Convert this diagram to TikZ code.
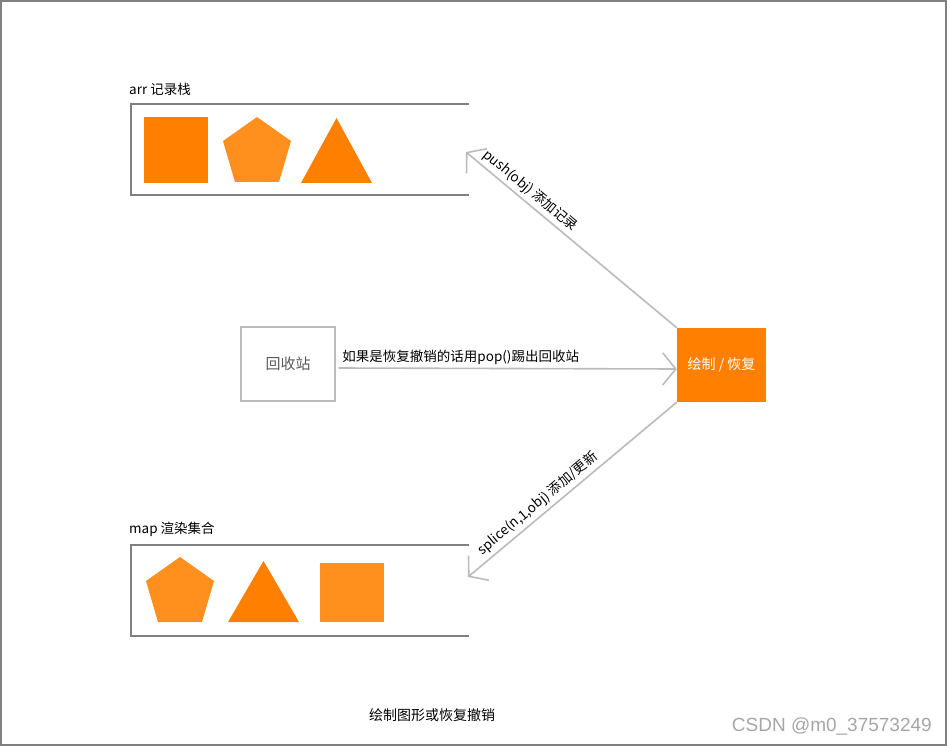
\documentclass[tikz,border=0pt]{standalone}
\usepackage{fontspec}
\setmainfont{Noto Sans CJK SC}
\newfontfamily\wmfont{Liberation Sans}
\usepackage{xcolor}
\usepackage{tikz}
\usetikzlibrary{arrows.meta}
\definecolor{deeporange}{HTML}{FF8000}
\definecolor{lightorange}{HTML}{FF901E}
\definecolor{framegray}{HTML}{808080}
\definecolor{flowgray}{HTML}{BBBBBB}
\newcommand{\pentshape}[3]{% top x, top y, colour
  \fill[#3] (#1,#2) -- ++(34,24) -- ++(-12,41) -- ++(-44,0) -- ++(-12,-41) -- cycle;}
\newcommand{\trishape}[4]{% apex x, apex y, height, colour
  \fill[#4] (#1,#2) -- ++(35.5,#3) -- ++(-71,0) -- cycle;}

\begin{document}
\begin{tikzpicture}[x=1pt,y=-1pt,
  lbl/.style={font=\fontsize{13.5}{16}\selectfont},
  stackline/.style={draw=framegray,line width=2pt},
  flow/.style={draw=flowgray,line width=1.6pt,
    -{Straight Barb[length=13pt,width=32pt]}},
  drawbox/.style={fill=deeporange,text=white,minimum width=89pt,
    minimum height=74pt,inner sep=0pt,font=\fontsize{14}{16}\selectfont},
  binbox/.style={draw=flowgray,line width=1.3pt,text=black!65,minimum width=94pt,
    minimum height=74pt,font=\fontsize{15}{18}\selectfont}]
  \useasboundingbox (0,0) rectangle (947,746);
  \draw[framegray,line width=2pt] (1,1) rectangle (946,745);

  % arr stack
  \node[lbl,anchor=west,inner sep=0pt] (arrlbl) at (129,89) {arr 记录栈};
  \draw[stackline] (469,104) -| (131,195) -- (469,195);
  \fill[deeporange] (144,117) rectangle (208,183);
  \pentshape{257}{117}{lightorange}
  \trishape{336.5}{118}{65}{deeporange}
  \coordinate (arrend) at (466,152);

  % map collection
  \node[lbl,anchor=west,inner sep=0pt] (maplbl) at (129,529) {map 渲染集合};
  \draw[stackline] (469,545) -| (131,636) -- (469,636);
  \pentshape{180}{557}{lightorange}
  \trishape{263.5}{561}{61}{deeporange}
  \fill[lightorange] (320,563) rectangle (384,622);
  \coordinate (mapend) at (468,577);

  \node[drawbox] (draw) at (721.5,365) {绘制 / 恢复};
  \node[binbox] (bin) at (288,364) {回收站};

  \draw[flow] ([yshift=-4pt,xshift=3pt]bin.east) -- ([yshift=-4pt]draw.west)
    node[lbl,pos=0,anchor=south west,inner sep=3pt] {如果是恢复撤销的话用pop()踢出回收站};
  \draw[flow] (draw.north west) -- (arrend)
    node[lbl,pos=0.73,sloped,above] {push(obj) 添加记录};
  \draw[flow] (draw.south west) -- (mapend)
    node[lbl,pos=0.63,sloped,above] {splice(n,1,obj) 添加/更新};

  \node[font=\fontsize{14}{16}\selectfont] (caption) at (432,715) {绘制图形或恢复撤销};
  \node[anchor=east,text=black!35,font=\wmfont\fontsize{19}{22}\selectfont,inner sep=0pt]
    (mark) at (932,726) {CSDN @m0\_37573249};
\end{tikzpicture}
\end{document}
